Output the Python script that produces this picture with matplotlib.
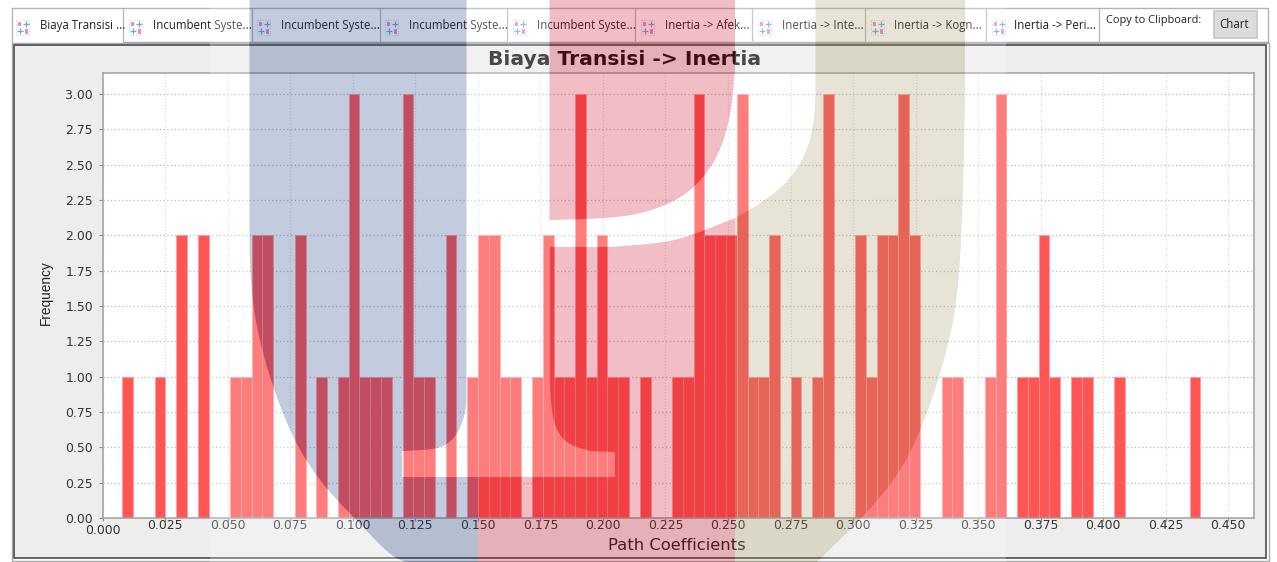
import matplotlib
matplotlib.use("Agg")
import matplotlib.pyplot as plt
import numpy as np
from matplotlib.patches import PathPatch, Polygon, Rectangle
from matplotlib.path import Path

W, H = 1277, 562

# histogram, 100 equal bins
bin_start = 0.00784
bin_width = 0.00431
counts = [
    1, 0, 0, 1, 0, 2, 0, 2, 0, 0,
    1, 1, 2, 2, 0, 0, 2, 0, 1, 0,
    1, 3, 1, 1, 1, 0, 3, 1, 1, 0,
    2, 0, 1, 2, 2, 1, 1, 0, 1, 2,
    1, 1, 3, 1, 2, 1, 1, 0, 1, 0,
    0, 1, 1, 3, 2, 2, 2, 3, 1, 1,
    2, 0, 1, 0, 1, 3, 0, 0, 2, 1,
    2, 2, 3, 2, 0, 0, 1, 1, 0, 0,
    1, 3, 0, 1, 1, 2, 1, 0, 1, 1,
    0, 0, 1, 0, 0, 0, 0, 0, 0, 1,
]
x_ticks = [0.000, 0.025, 0.050, 0.075, 0.100, 0.125, 0.150, 0.175, 0.200, 0.225,
           0.250, 0.275, 0.300, 0.325, 0.350, 0.375, 0.400, 0.425, 0.450]
y_ticks = [0.00, 0.25, 0.50, 0.75, 1.00, 1.25, 1.50, 1.75, 2.00, 2.25, 2.50, 2.75, 3.00]

title = "Biaya Transisi -> Inertia"
x_label = "Path Coefficients"
y_label = "Frequency"

tab_labels = ["Biaya Transisi ...", "Incumbent Syste...", "Incumbent Syste...",
              "Incumbent Syste...", "Incumbent Syste...", "Inertia -> Afek...",
              "Inertia -> Inte...", "Inertia -> Kogn...", "Inertia -> Peri..."]
tab_edges = [12, 123, 252, 380, 507, 635, 752, 865, 986, 1099]
tab_text_x = [40, 153, 281, 409, 537, 665, 782, 894, 1014]
icon_x = [16, 129, 257, 385, 513, 641, 758, 871, 992]

UI_FONT = ["Open Sans", "DejaVu Sans"]


def rounded(points, passes=3):
    # corner cutting, keeps both end points
    pts = np.array(points, dtype=float)
    for _ in range(passes):
        a, b = pts[:-1], pts[1:]
        q = 0.75 * a + 0.25 * b
        r = 0.25 * a + 0.75 * b
        mid = np.empty((len(q) * 2, 2))
        mid[0::2] = q
        mid[1::2] = r
        pts = np.vstack([pts[0], mid, pts[-1]])
    return [tuple(p) for p in pts]


# watermark outlines, in image pixels
blue_shape = (
    [(249.5, 0), (466.5, 0)]
    + rounded([(466.5, 380), (466.5, 410), (458, 434), (444, 447), (425, 450), (402, 451)])
    + [(402, 477), (478, 477), (478, 562)]
    + rounded([(405, 562), (390, 555), (363, 527), (330, 493), (305, 460), (285, 420),
               (268, 372), (256, 325), (251, 285), (249.5, 250)])
)
red_top_shape = (
    [(549.5, 0), (735, 0)]
    + rounded([(735, 70), (731, 115), (718, 158), (693, 190), (663, 207), (630, 216),
               (590, 219), (549.5, 220)])
)
red_low_shape = (
    [(550, 247)]
    + rounded([(610, 247), (663, 243), (693, 235), (735, 218)])
    + [(735, 562), (478, 562), (478, 477), (615, 477), (615, 452)]
    + rounded([(590, 451), (567, 444), (555, 428), (551, 405), (550, 380)])
)
beige_shape = (
    [(815.5, 0), (965, 0)]
    + rounded([(965, 100), (963, 200), (958, 300), (943, 367), (920, 433), (897, 477),
               (863, 517), (817, 562)])
    + [(735, 562)]
    + rounded([(735, 218), (763, 202), (790, 180), (808, 150), (815, 115), (815.5, 85)])
)


def draw_icon(ax, x):
    ax.add_patch(Rectangle((x, 20), 13, 15, fc="none", ec="#cccccc", lw=0.7, ls=":"))
    ax.add_patch(Rectangle((x + 2, 21.5), 3, 4.5, fc="#ec8cc0", ec="none"))
    ax.add_patch(Rectangle((x + 8.5, 28.5), 3, 5, fc="#ec8cc0", ec="none"))
    ax.plot([x + 10, x + 3.5], [24, 30.5], ls="none", marker="+", ms=4, mew=0.9, color="#6ca8ee")


def draw_chrome(fig):
    ax = fig.add_axes([0, 0, 1, 1], zorder=0)
    ax.set_xlim(0, W)
    ax.set_ylim(H, 0)
    ax.axis("off")

    ax.plot([12, 1268, 1268], [8, 8, 42], color="#b4b4b4", lw=1)
    ax.plot([12, 12], [8, 42], color="#b4b4b4", lw=1)
    ax.plot([123, 1268], [42, 42], color="#a8a8a8", lw=1)
    for x in tab_edges[1:]:
        ax.plot([x, x], [8, 42], color="#b8b8b8", lw=0.9)

    for x, tx, label in zip(icon_x, tab_text_x, tab_labels):
        draw_icon(ax, x)
        ax.text(tx, 25.5, label, fontsize=8.3, family=UI_FONT, color="#222222",
                ha="left", va="center")

    ax.text(1106, 20.5, "Copy to Clipboard:", fontsize=7.9, family=UI_FONT, color="#222222",
            ha="left", va="center")
    ax.add_patch(Rectangle((1214, 11), 43, 27, fc="#dcdcdc", ec="#c6c6c6", lw=1.2))
    ax.text(1234, 24.5, "Chart", fontsize=8.3, family=UI_FONT, color="#222222",
            ha="center", va="center")

    ax.add_patch(Rectangle((11.5, 43), 1257, 518, fc="white", ec="#ababab", lw=1))
    ax.add_patch(Rectangle((14, 45), 1252, 513, fc="#ededed", ec="#4a4a4a", lw=1.2))

    ax.text(624.5, 59.5, title, fontsize=14.6, fontweight="bold", family="DejaVu Sans",
            color="#111111", ha="center", va="center")
    ax.text(677, 546, x_label, fontsize=11.8, family="DejaVu Sans", color="#222222",
            ha="center", va="center")
    ax.text(46, 293, y_label, fontsize=9.8, family="Liberation Sans",
            color="#222222", rotation=90, ha="center", va="center")


def draw_plot(fig):
    ax = fig.add_axes([102.7 / W, 1 - 518 / H, (1254 - 102.7) / W, (518 - 72.7) / H], zorder=1)
    lefts = bin_start + bin_width * np.arange(len(counts))
    ax.bar(lefts, counts, width=bin_width, align="edge", color="#ff5555",
           edgecolor="#ff9c9c", linewidth=0.5)

    ax.set_xlim(0, 0.4603)
    ax.set_ylim(0, 3.15)
    ax.set_xticks(x_ticks, [f"{v:.3f}" for v in x_ticks])
    ax.set_yticks(y_ticks, [f"{v:.2f}" for v in y_ticks])
    ax.tick_params(axis="x", labelsize=8.9, labelcolor="#333333", color="#8c8c8c",
                   length=2, width=0.8, pad=-1)
    ax.tick_params(axis="y", labelsize=8.9, labelcolor="#333333", color="#8c8c8c",
                   length=3, width=0.8, pad=4)
    ax.xaxis.get_major_ticks()[0].set_pad(2)
    ax.set_axisbelow(True)
    ax.grid(axis="x", color="#dcdcdc", ls=(0, (1, 1.5)), lw=0.9)
    ax.grid(axis="y", color="#bababa", ls=(0, (1, 2)), lw=0.9)
    for side in ax.spines.values():
        side.set_color("#a0a0a0")
        side.set_linewidth(1.1)


def draw_watermark(fig):
    ax = fig.add_axes([0, 0, 1, 1], zorder=5)
    ax.patch.set_alpha(0)
    ax.set_xlim(0, W)
    ax.set_ylim(H, 0)
    ax.axis("off")

    # white veil with the logo shapes cut out of it
    veil = [Path([(210, 0), (1006, 0), (1006, H), (210, H), (210, 0)], closed=True)]
    shapes = [blue_shape, red_top_shape, red_low_shape, beige_shape]
    for shape in shapes:
        # clockwise on screen against the veil, so each one makes a hole
        veil.append(Path(shape[::-1] + [shape[-1]], closed=True))
    ax.add_patch(PathPatch(Path.make_compound_path(*veil), fc="white", ec="none", alpha=0.235))

    for shape, colour in zip(shapes, ["#183780", "#c8051e", "#c8051e", "#a69661"]):
        ax.add_patch(Polygon(shape, closed=True, fc=colour, ec="none", alpha=0.26))


def main():
    fig = plt.figure(figsize=(W / 100, H / 100), dpi=100)
    draw_chrome(fig)
    draw_plot(fig)
    draw_watermark(fig)
    fig.savefig("out.png", dpi=100)
    plt.close(fig)


if __name__ == "__main__":
    main()
